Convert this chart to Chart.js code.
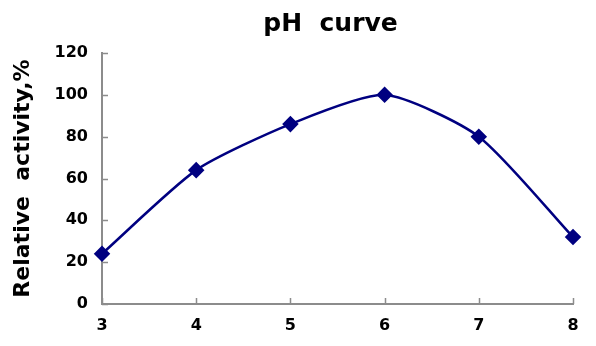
<!DOCTYPE html>
<html>
<head>
<meta charset="utf-8">
<script src="https://cdn.jsdelivr.net/npm/chart.js@4.4.0/dist/chart.umd.min.js"></script>
<style>
  html, body { margin: 0; padding: 0; background: #fff; }
  #wrap { width: 596px; height: 346px; }
</style>
</head>
<body>
<div id="wrap"><canvas id="phChart"></canvas></div>
<script>
// pH values and relative activity (%)
const phValues = [3, 4, 5, 6, 7, 8];
const activity = [24, 64, 86, 100, 80, 32];
const titleText = 'pH  curve';
const yTitle = 'Relative  activity,%';

const axisGray = '#8c8c8c';
const navy = '#000080';
const FONT = "'DejaVu Sans', sans-serif";

// Excel-style title centred over the plot area
const titlePlugin = {
  id: 'plotTitle',
  afterDraw(chart) {
    const { ctx, chartArea } = chart;
    ctx.save();
    ctx.font = `bold 25px ${FONT}`;
    ctx.fillStyle = '#000';
    ctx.textAlign = 'center';
    ctx.textBaseline = 'middle';
    ctx.fillText(titleText, (chartArea.left + chartArea.right) / 2 - 7, 24);
    ctx.restore();
  }
};

// short tick marks pointing into the plot
const innerTicks = {
  id: 'innerTicks',
  afterDraw(chart) {
    const { ctx, chartArea, scales } = chart;
    ctx.save();
    ctx.strokeStyle = axisGray;
    ctx.lineWidth = 1.5;
    ctx.beginPath();
    scales.y.ticks.forEach(t => {
      const py = Math.round(scales.y.getPixelForValue(t.value)) + 0.5;
      ctx.moveTo(chartArea.left, py);
      ctx.lineTo(chartArea.left + 6, py);
    });
    scales.x.ticks.forEach(t => {
      const px = Math.round(scales.x.getPixelForValue(t.value)) + 0.5;
      ctx.moveTo(px, chartArea.bottom);
      ctx.lineTo(px, chartArea.bottom - 6);
    });
    ctx.stroke();
    ctx.restore();
  }
};

new Chart(document.getElementById('phChart'), {
  type: 'line',
  data: {
    datasets: [{
      label: 'activity',
      data: phValues.map((x, i) => ({ x: x, y: activity[i] })),
      borderColor: navy,
      backgroundColor: navy,
      borderWidth: 2.5,
      tension: 0.22,
      pointStyle: 'rectRot',
      pointRadius: 6.5,
      pointHoverRadius: 6.5,
      pointBackgroundColor: navy,
      pointBorderColor: navy,
      clip: false
    }]
  },
  options: {
    responsive: true,
    maintainAspectRatio: false,
    animation: false,
    layout: { padding: { top: 53, right: 23, left: 0, bottom: 0 } },
    plugins: {
      legend: { display: false },
      title: { display: false },
      tooltip: { enabled: false }
    },
    scales: {
      x: {
        type: 'linear',
        min: 3,
        max: 8,
        afterFit: s => { s.height = 42; },
        ticks: {
          stepSize: 1,
          padding: 12,
          color: '#000',
          font: { family: FONT, size: 16, weight: 'bold' }
        },
        grid: { display: false, drawTicks: false },
        border: { display: true, color: axisGray, width: 2 }
      },
      y: {
        min: 0,
        max: 120,
        afterFit: s => { s.width = 102; },
        ticks: {
          stepSize: 20,
          padding: 14,
          color: '#000',
          font: { family: FONT, size: 16, weight: 'bold' }
        },
        grid: { display: false, drawTicks: false },
        border: { display: true, color: axisGray, width: 2 },
        title: {
          display: true,
          text: yTitle,
          color: '#000',
          padding: { top: 10, bottom: 4 },
          font: { family: FONT, size: 22, weight: 'bold' }
        }
      }
    }
  },
  plugins: [titlePlugin, innerTicks]
});
</script>
</body>
</html>
